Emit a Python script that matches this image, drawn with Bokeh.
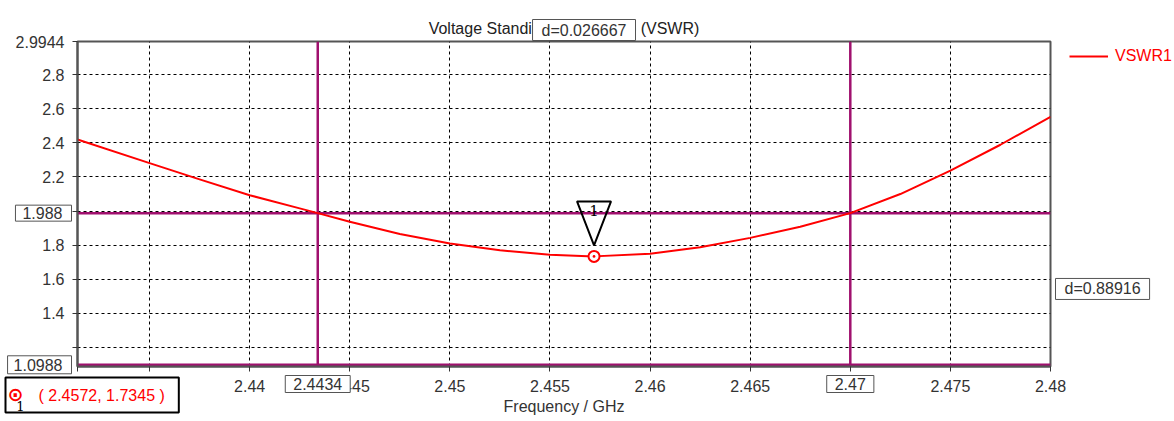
from bokeh.plotting import figure
from bokeh.models import (Range1d, FixedTicker, Span, Label, Legend, LegendItem,
                          CustomJSTickFormatter)
from bokeh.core.properties import value
from bokeh.embed import file_html
from bokeh.resources import INLINE

FONT = "Liberation Sans"

# VSWR of the antenna across the band (frequency in GHz)
freq_ghz = [2.4314, 2.435, 2.4375, 2.44, 2.4425, 2.4434, 2.445, 2.4475, 2.45, 2.4525,
            2.455, 2.4572, 2.46, 2.4625, 2.465, 2.4675, 2.47, 2.4725, 2.475, 2.4775, 2.48]
vswr = [2.420, 2.281, 2.186, 2.093, 2.016, 1.988, 1.938, 1.866, 1.810, 1.770,
        1.744, 1.7345, 1.750, 1.788, 1.843, 1.908, 1.988, 2.100, 2.237, 2.389, 2.553]

# axis ranges and ticks
x_start, x_end = 2.4314, 2.48
y_start, y_end = 1.0888, 2.9944
x_ticks = [2.4314, 2.435, 2.44, 2.445, 2.45, 2.455, 2.46, 2.465, 2.47, 2.475, 2.48]
x_tick_labels = ["", "", "2.44", "2.445", "2.45", "2.455", "2.46", "2.465", "", "2.475", "2.48"]
y_ticks = [1.2, 1.4, 1.6, 1.8, 2.0, 2.2, 2.4, 2.6, 2.8, 2.9944]
y_tick_labels = ["", "1.4", "1.6", "1.8", "", "2.2", "2.4", "2.6", "2.8", "2.9944"]

# markers: two frequency cursors, two level cursors, one curve marker
vcursor_x = [2.4434, 2.47]
vcursor_labels = ["2.4434", "2.47"]
hcursor_y = [1.988, 1.0988]
hcursor_labels = ["1.988", "1.0988"]
dx_label = "d=0.026667"
dy_label = "d=0.88916"
marker_f, marker_v = 2.4572, 1.7345
marker_id = "1"

FW, FH = 973, 325
CURSOR = "#A0106E"
TXT = "#333333"

p = figure(frame_width=FW, frame_height=FH, output_backend="svg", toolbar_location=None,
           x_range=Range1d(x_start, x_end), y_range=Range1d(y_start, y_end),
           min_border_left=77, min_border_right=124, min_border_top=41, min_border_bottom=55,
           title="Voltage Standing Wave Ratio (VSWR)")
p.background_fill_color = "white"
p.border_fill_color = "white"
p.outline_line_color = "#555555"
p.outline_line_width = 2

p.title.align = "center"
p.title.text_font = FONT
p.title.text_font_size = "16px"
p.title.text_font_style = "normal"
p.title.text_color = "#222222"
p.title.standoff = 10


def lookup_formatter(vals, labs):
    return CustomJSTickFormatter(args=dict(vals=vals, labs=labs), code="""
        for (let i = 0; i < vals.length; i++) {
            if (Math.abs(vals[i] - tick) < 1e-9) { return labs[i]; }
        }
        return "";
    """)


for ax, ticks, labs in ((p.xaxis[0], x_ticks, x_tick_labels), (p.yaxis[0], y_ticks, y_tick_labels)):
    ax.ticker = FixedTicker(ticks=ticks)
    ax.formatter = lookup_formatter(ticks, labs)
    ax.major_tick_in = 0
    ax.major_tick_out = 5
    ax.minor_tick_in = 0
    ax.minor_tick_out = 0
    ax.major_tick_line_color = "#333333"
    ax.axis_line_color = "#555555"
    ax.axis_line_width = 2
    ax.major_label_text_font = FONT
    ax.major_label_text_font_size = "16px"
    ax.major_label_text_color = TXT

p.xaxis.major_label_standoff = 8
p.yaxis.major_label_standoff = 8
p.xaxis.axis_label = "Frequency / GHz"
p.xaxis.axis_label_text_font = FONT
p.xaxis.axis_label_text_font_size = "16px"
p.xaxis.axis_label_text_font_style = "normal"
p.xaxis.axis_label_text_color = TXT
p.xaxis.axis_label_standoff = 3

for g in (p.xgrid[0], p.ygrid[0]):
    g.grid_line_color = "black"
    g.grid_line_dash = "3 3"
    g.grid_line_width = 1

# cursor lines
for xv in vcursor_x:
    p.add_layout(Span(location=xv, dimension="height", line_color=CURSOR, line_width=2.5,
                      level="underlay"))
for yv in hcursor_y:
    p.add_layout(Span(location=yv, dimension="width", line_color=CURSOR, line_width=2.5,
                      level="underlay"))

curve = p.line(freq_ghz, vswr, line_color="#FF0000", line_width=2, line_join="round")

# curve marker with its pointer triangle
px_x = FW / (x_end - x_start)
px_y = FH / (y_end - y_start)
p.patch([marker_f - 17 / px_x, marker_f + 17 / px_x, marker_f],
        [marker_v + 55 / px_y, marker_v + 55 / px_y, marker_v + 11 / px_y],
        fill_alpha=0, line_color="black", line_width=2)
p.add_layout(Label(x=marker_f, y=marker_v, y_offset=46, text=marker_id, anchor="center",
                   text_font="DejaVu Serif", text_font_size="15px", text_color="black"))
p.scatter([marker_f], [marker_v], marker="circle_dot", size=11, line_color="#FF0000",
          line_width=2, fill_color="white")


def boxed(x, y, text, anchor, pad, x_offset=0, y_offset=0, color=TXT,
          border="#555555", border_width=1):
    # boxed value readouts, drawn on the overlay level so they may sit outside the frame
    p.text(x=[x], y=[y], text=[text], x_offset=x_offset, y_offset=y_offset,
           anchor=value(anchor), padding=pad, text_font=value(FONT), text_font_size="16px",
           text_color=color, background_fill_color="white", border_line_color=border,
           border_line_width=border_width, level="overlay")


# level cursor values on the left
boxed(x_start, hcursor_y[0], hcursor_labels[0], "center_right",
      dict(left=7, right=9, top=2, bottom=2), x_offset=-6)
boxed(x_start, hcursor_y[1], hcursor_labels[1], "center_right",
      dict(left=6, right=9, top=3, bottom=3), x_offset=-6)
# frequency cursor values under the axis
for xv, lab in zip(vcursor_x, vcursor_labels):
    boxed(xv, y_start, lab, "top_center", dict(left=8, right=8, top=2, bottom=3), y_offset=9)
# cursor distances
boxed((vcursor_x[0] + vcursor_x[1]) / 2, y_end, dx_label, "bottom_center",
      dict(left=9, right=9, top=2, bottom=2), y_offset=-1)
boxed(x_end, (hcursor_y[0] + hcursor_y[1]) / 2, dy_label, "center_left",
      dict(left=9, right=9, top=2, bottom=2), x_offset=5)

# marker readout: box, marker symbol and marker number
boxed(x_start, y_start, f"( {marker_f}, {marker_v} )", "top_left",
      dict(left=33, right=14, top=9, bottom=9), x_offset=-72, y_offset=11,
      color="#FF0000", border="black", border_width=2)
p.text(x=[x_start], y=[y_start], text=["\u2299"], x_offset=-62, y_offset=27,
       anchor=value("center"), text_font=value("DejaVu Sans"), text_font_size="19px",
       text_font_style="bold", text_color="#FF0000", level="overlay")
p.text(x=[x_start], y=[y_start], text=[marker_id], x_offset=-57, y_offset=39,
       anchor=value("center"), text_font=value("DejaVu Serif"), text_font_size="13px",
       text_color="black", level="overlay")

legend = Legend(items=[LegendItem(label="VSWR1", renderers=[curve])],
                location=(19, 300), padding=0, margin=0, spacing=0,
                glyph_width=39, glyph_height=20, label_height=20, label_standoff=7,
                label_text_font=FONT, label_text_font_size="16px", label_text_color="#FF0000",
                border_line_alpha=0, background_fill_alpha=0)
p.add_layout(legend, "right")

open("out.html", "w").write(file_html(p, INLINE))
